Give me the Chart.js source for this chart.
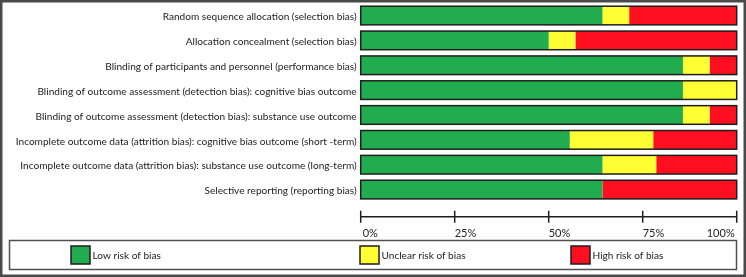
<!DOCTYPE html>
<html>
<head>
<meta charset="utf-8">
<script src="https://cdn.jsdelivr.net/npm/chart.js@4"></script>
<style>
  html, body { margin: 0; padding: 0; background: #fff; }
  #wrap { width: 746px; height: 277px; }
</style>
</head>
<body>
<div id="wrap"><canvas id="c" width="746" height="277"></canvas></div>
<script>
const categories = [
  'Random sequence allocation (selection bias)',
  'Allocation concealment (selection bias)',
  'Blinding of participants and personnel (performance bias)',
  'Blinding of outcome assessment (detection bias): cognitive bias outcome',
  'Blinding of outcome assessment (detection bias): substance use outcome',
  'Incomplete outcome data (attrition bias): cognitive bias outcome (short -term)',
  'Incomplete outcome data (attrition bias): substance use outcome (long-term)',
  'Selective reporting (reporting bias)'
];
const lowRisk     = [64.3, 50.0, 85.7, 85.7, 85.7, 55.6, 64.3, 64.3];
const unclearRisk = [ 7.1,  7.1,  7.1, 14.3,  7.1, 22.2, 14.3,  0.0];
const highRisk    = [28.6, 42.9,  7.2,  0.0,  7.2, 22.2, 21.4, 35.7];
const seriesNames = ['Low risk of bias', 'Unclear risk of bias', 'High risk of bias'];
const tickValues = [0, 25, 50, 75, 100];
const tickLabels = ['0%', '25%', '50%', '75%', '100%'];

const COLORS = ['#21ad4f', '#ffff33', '#ff0f1f'];
const FONT_FAMILY = 'Lato, "Open Sans", sans-serif';
const FONT_SIZE = 10.1;
const TICK_FONT_SIZE = 11;
const TEXT_COLOR = '#222222';

const overlay = {
  id: 'overlay',
  afterDraw(chart) {
    const ctx = chart.ctx;
    const xs = chart.scales.x, ys = chart.scales.y;
    const x0 = xs.getPixelForValue(0), x1 = xs.getPixelForValue(100);
    ctx.save();
    // outer frame
    ctx.strokeStyle = '#4a4a4a';
    ctx.lineWidth = 2.5;
    ctx.strokeRect(1.25, 1.25, chart.width - 2.5, chart.height - 2.5);
    // bar outlines
    const meta = chart.getDatasetMeta(0);
    ctx.strokeStyle = '#1e1e1e';
    ctx.lineWidth = 1.5;
    meta.data.forEach((el, i) => {
      const yc = ys.getPixelForValue(i);
      const h = el.height;
      ctx.strokeRect(x0, yc - h / 2, x1 - x0, h);
    });
    // axis
    const ay = 216.7;
    ctx.strokeStyle = '#1e1e1e';
    ctx.lineWidth = 1.5;
    ctx.beginPath();
    ctx.moveTo(x0, ay); ctx.lineTo(x1, ay);
    tickValues.forEach(v => {
      const px = xs.getPixelForValue(v);
      ctx.moveTo(px, ay - 6); ctx.lineTo(px, ay + 6);
    });
    ctx.stroke();
    ctx.fillStyle = TEXT_COLOR;
    ctx.font = TICK_FONT_SIZE + 'px ' + FONT_FAMILY;
    ctx.textBaseline = 'middle';
    tickValues.forEach((v, i) => {
      const px = xs.getPixelForValue(v);
      if (i === tickValues.length - 1) { ctx.textAlign = 'right'; ctx.fillText(tickLabels[i], px - 2, 233); }
      else { ctx.textAlign = 'left'; ctx.fillText(tickLabels[i], px + (i === 0 ? 2 : 0), 233); }
    });
    // legend box
    ctx.strokeStyle = '#505050';
    ctx.lineWidth = 1.5;
    ctx.strokeRect(9.5, 240.5, 727, 29);
    const legendX = [71, 360, 571];
    ctx.font = FONT_SIZE + 'px ' + FONT_FAMILY;
    chart.data.datasets.forEach((ds, i) => {
      ctx.fillStyle = ds.backgroundColor;
      ctx.fillRect(legendX[i], 246, 19, 18);
      ctx.strokeStyle = '#1e1e1e';
      ctx.lineWidth = 1.5;
      ctx.strokeRect(legendX[i], 246, 19, 18);
      ctx.fillStyle = TEXT_COLOR;
      ctx.textAlign = 'left';
      ctx.fillText(ds.label, legendX[i] + 21.5, 256);
    });
    ctx.restore();
  }
};

new Chart(document.getElementById('c'), {
  type: 'bar',
  data: {
    labels: categories,
    datasets: [
      { label: seriesNames[0], data: lowRisk, backgroundColor: COLORS[0] },
      { label: seriesNames[1], data: unclearRisk, backgroundColor: COLORS[1] },
      { label: seriesNames[2], data: highRisk, backgroundColor: COLORS[2] }
    ]
  },
  options: {
    indexAxis: 'y',
    responsive: false,
    animation: false,
    devicePixelRatio: 1,
    layout: { padding: { left: 0, right: 9.3, top: 3.1, bottom: 75 } },
    datasets: { bar: { barPercentage: 0.75, categoryPercentage: 1.0, borderWidth: 0 } },
    plugins: { legend: { display: false }, tooltip: { enabled: false } },
    scales: {
      x: { stacked: true, min: 0, max: 100, display: false },
      y: {
        stacked: true,
        grid: { display: false, drawTicks: false },
        border: { display: false },
        ticks: {
          padding: 4,
          labelOffset: 1.5,
          color: TEXT_COLOR,
          font: { family: FONT_FAMILY, size: FONT_SIZE }
        },
        afterFit(scale) { scale.width = 360.7; scale.paddingTop = 0; scale.paddingBottom = 0; }
      }
    }
  },
  plugins: [overlay]
});
</script>
</body>
</html>
